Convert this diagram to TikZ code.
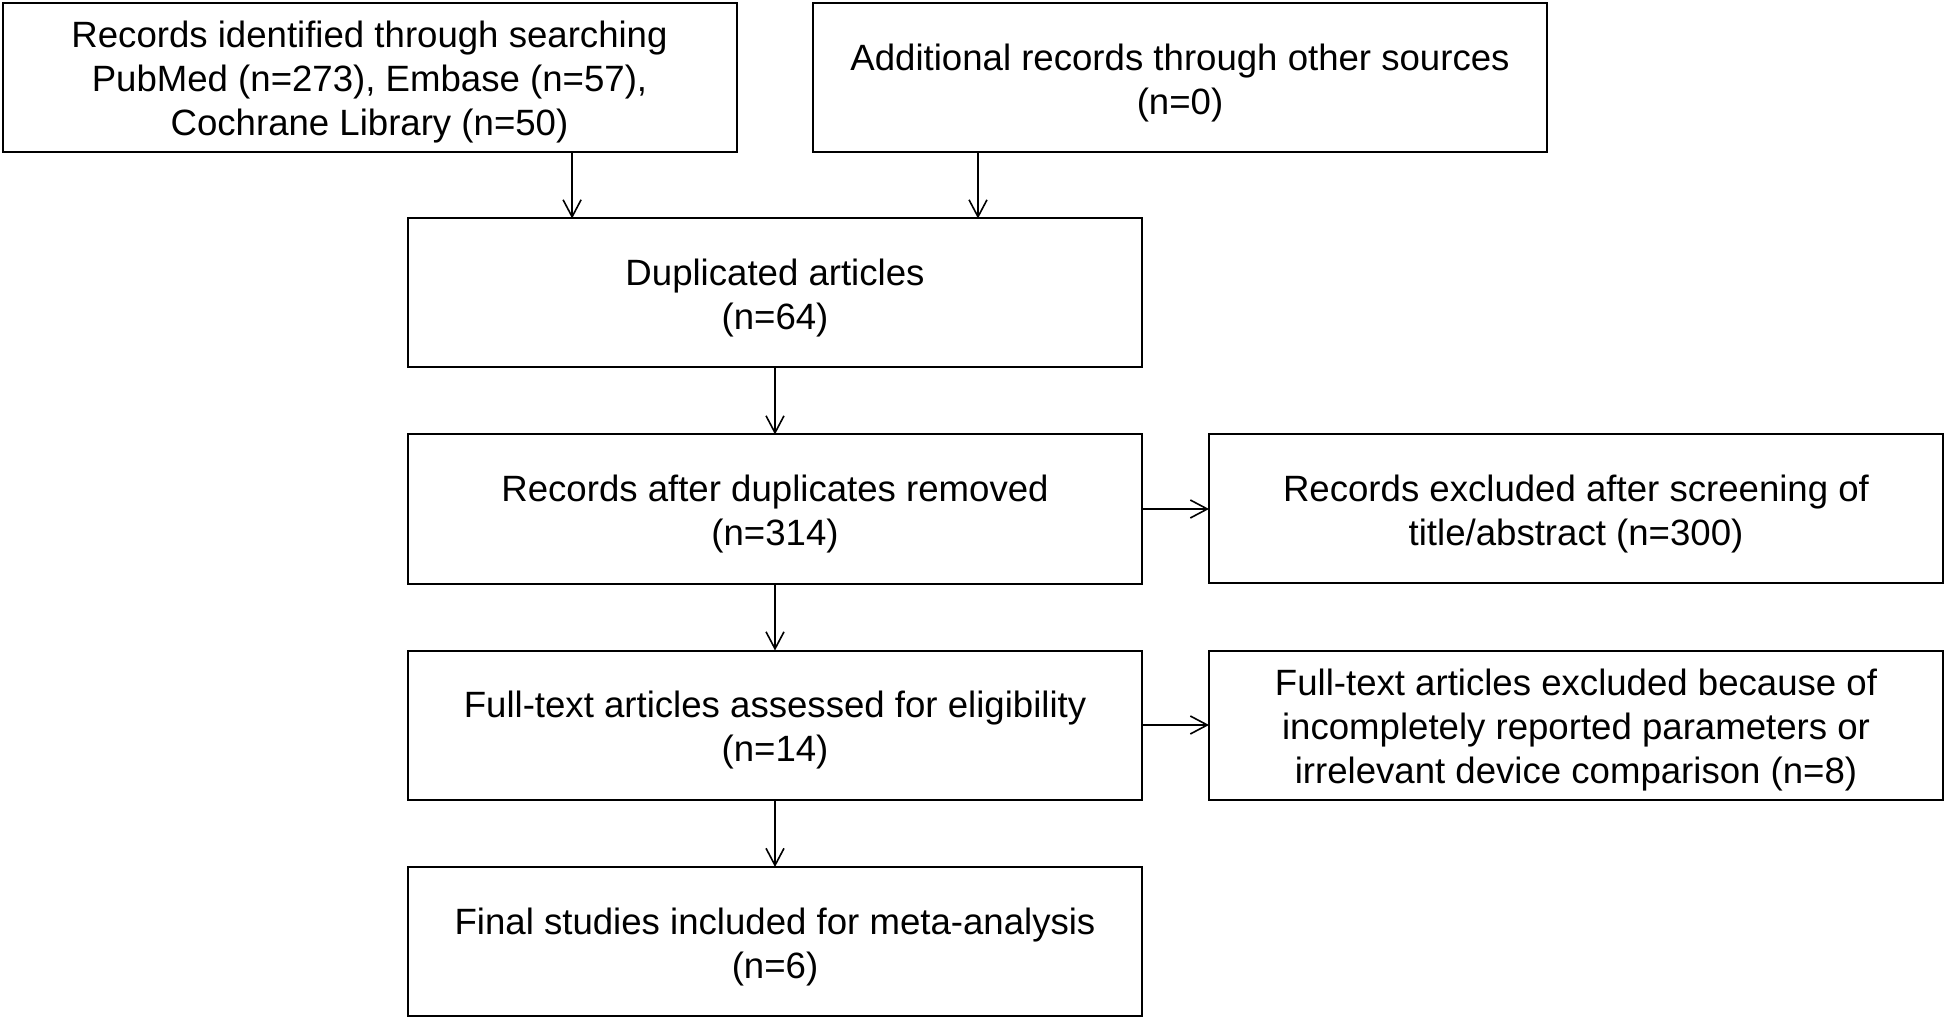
\documentclass[tikz,border=0pt]{standalone}
\usepackage{fontspec}
\setmainfont{Liberation Sans}
\usetikzlibrary{arrows.meta,calc}
\newcommand{\topgap}{\rule{0pt}{18.3pt}}
\begin{document}
\begin{tikzpicture}[x=0.5pt,y=-0.5pt,
  box/.style={draw=black,line width=1pt,rectangle,minimum width=367pt,minimum height=74.5pt,
    inner sep=0pt,outer sep=0pt,align=center,font=\fontsize{18.3}{22}\selectfont},
  arr/.style={line width=0.8pt,-{Straight Barb[length=8.5pt,width=9pt,line width=0.8pt]}}]
\useasboundingbox[fill=white] (0,0) rectangle (1946,1020);
\node[box] (A) at (369.5,77.5) {\topgap Records identified through searching\\PubMed (n=273), Embase (n=57),\\Cochrane Library (n=50)};
\node[box] (B) at (1180,77.5) {\topgap Additional records through other sources\\(n=0)};
\node[box] (C) at (775,293) {\topgap Duplicated articles\\(n=64)};
\node[box] (D) at (775,509) {\topgap Records after duplicates removed\\(n=314)};
\node[box] (E) at (1576,508.5) {\topgap Records excluded after screening of\\title/abstract (n=300)};
\node[box] (F) at (775,725) {\topgap Full-text articles assessed for eligibility\\(n=14)};
\node[box] (G) at (1576,725) {\topgap Full-text articles excluded because of\\incompletely reported parameters or\\irrelevant device comparison (n=8)};
\node[box] (H) at (775,941.5) {\topgap Final studies included for meta-analysis\\(n=6)};
\coordinate (a1) at ($(A.south west)!0.776!(A.south east)$);
\coordinate (b1) at ($(B.south west)!0.2248!(B.south east)$);
\draw[arr] (a1) -- (a1 |- C.north);
\draw[arr] (b1) -- (b1 |- C.north);
\draw[arr] (C) -- (D);
\draw[arr] (D) -- (F);
\draw[arr] (F) -- (H);
\draw[arr] (D.east) -- (E.west |- D.east);
\draw[arr] (F.east) -- (G.west |- F.east);
\end{tikzpicture}
\end{document}
